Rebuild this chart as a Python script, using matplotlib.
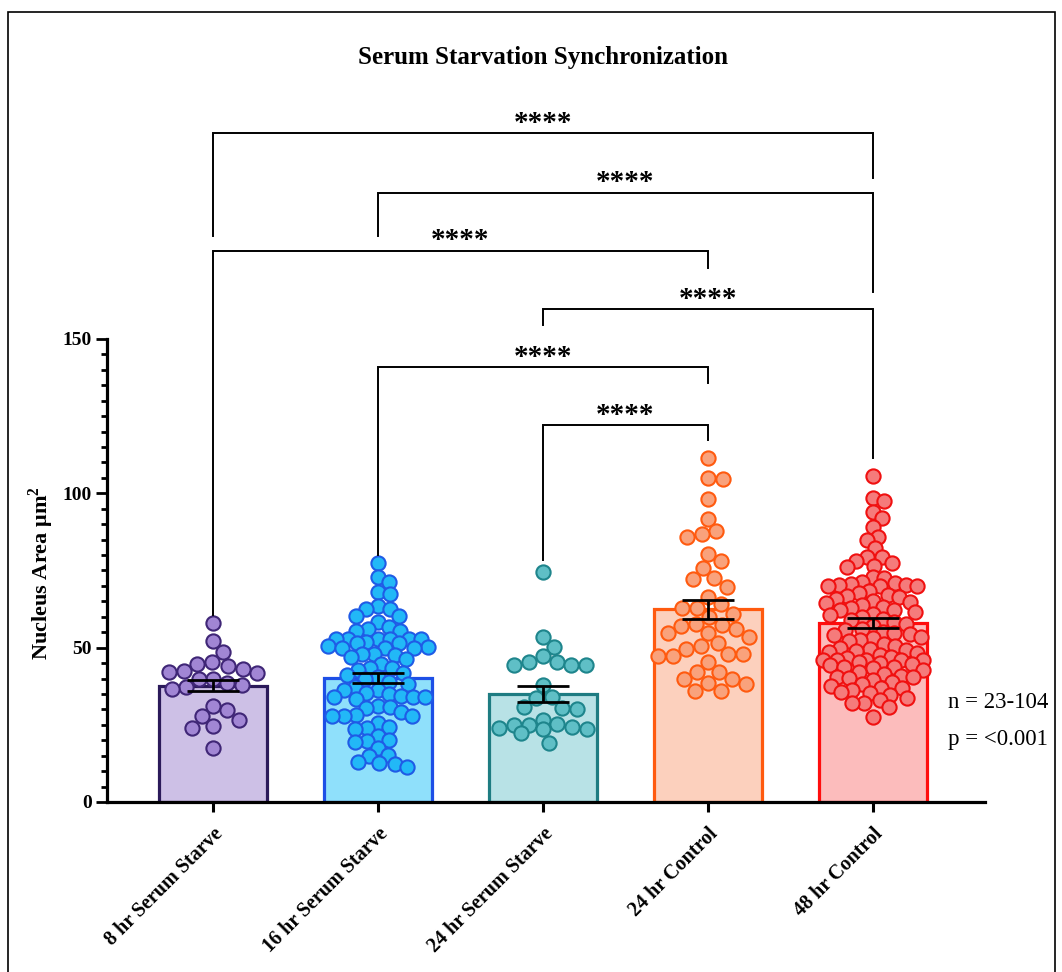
import matplotlib
matplotlib.use("Agg")
import matplotlib.pyplot as plt
import numpy as np
from matplotlib.patches import Rectangle

plt.rcParams['font.family'] = ['Liberation Serif', 'DejaVu Serif']
plt.rcParams['mathtext.fontset'] = 'custom'
plt.rcParams['mathtext.rm'] = 'Liberation Serif:bold'
plt.rcParams['mathtext.bf'] = 'Liberation Serif:bold'

# Daten
groups = ['8 hr Serum Starve', '16 hr Serum Starve', '24 hr Serum Starve',
          '24 hr Control', '48 hr Control']
means = [37.6, 40.2, 35.0, 62.4, 58.0]
sems = [1.8, 1.6, 2.5, 3.0, 1.5]

ss8 = [57.9, 52.3, 48.7, 45.3, 44.7, 44.1, 43.0, 42.5, 42.2, 41.9, 40.0, 40.0,
       38.5, 37.9, 37.2, 36.5, 31.1, 29.8, 27.9, 26.6, 24.6, 24.1, 17.6]
ss16 = [77.3, 72.8, 71.4, 67.9, 67.3, 63.5, 62.5, 62.5, 60.3, 60.3, 58.2, 56.8,
        55.9, 55.5, 55.5, 52.7, 52.7, 52.7, 52.7, 52.7, 52.7, 51.9, 51.4, 51.4,
        50.5, 50.3, 50.0, 49.8, 49.8, 48.0, 48.0, 47.5, 47.1, 46.3, 44.7, 43.3,
        43.3, 42.8, 41.7, 41.1, 40.5, 39.7, 38.9, 38.2, 37.4, 36.3, 36.3, 35.2,
        35.0, 34.3, 34.1, 34.0, 34.0, 33.5, 31.2, 30.9, 30.3, 29.3, 28.1, 28.0,
        27.8, 27.7, 25.5, 24.4, 24.1, 23.5, 21.4, 20.2, 19.9, 19.5, 17.4, 15.2,
        14.9, 13.1, 12.7, 12.2, 11.4]
ss24 = [74.6, 53.4, 50.3, 47.3, 45.5, 45.5, 44.5, 44.4, 44.4, 37.9, 34.1, 33.6,
        30.8, 30.3, 30.0, 26.6, 25.4, 24.9, 24.9, 24.3, 24.0, 23.5, 23.5, 22.2, 19.0]
c24 = [111.3, 105.1, 104.5, 98.0, 91.8, 87.8, 86.7, 85.9, 80.3, 78.2, 75.7, 72.4,
       72.1, 69.7, 66.3, 64.0, 62.9, 62.9, 60.9, 60.0, 57.8, 57.3, 57.0, 55.9,
       54.9, 54.6, 53.5, 51.4, 50.6, 49.4, 47.8, 47.8, 47.3, 47.3, 45.4, 42.0,
       42.0, 39.8, 39.8, 38.4, 38.1, 36.0, 36.0]
c48 = [105.6, 98.4, 97.6, 94.0, 91.9, 89.2, 85.9, 84.9, 82.2, 79.5, 79.3, 78.2,
       77.5, 76.5, 76.0, 72.8, 72.5, 71.4, 71.0, 70.6, 70.3, 70.3, 70.0, 69.9,
       69.9, 68.5, 67.8, 67.2, 66.8, 66.5, 65.9, 65.0, 64.9, 64.4, 63.8, 63.3,
       62.8, 62.2, 62.2, 61.6, 61.0, 60.5, 60.0, 59.2, 58.9, 58.4, 57.8, 57.0,
       56.2, 55.7, 55.0, 54.6, 54.4, 54.2, 53.6, 53.1, 52.5, 52.0, 51.3, 50.6,
       49.8, 49.5, 49.2, 49.0, 48.6, 48.2, 47.6, 47.1, 46.6, 46.0, 46.0, 46.0,
       46.0, 46.0, 45.5, 45.0, 44.6, 44.3, 43.8, 43.6, 43.3, 42.8, 42.1, 41.5,
       40.9, 40.6, 40.4, 40.1, 39.5, 38.8, 38.2, 37.6, 36.8, 36.8, 36.3, 35.7,
       35.2, 34.6, 33.6, 33.0, 32.2, 32.0, 30.8, 27.4]
data = [ss8, ss16, ss24, c24, c48]

bar_face = ['#cdc0e6', '#8fe0fb', '#b8e2e6', '#fcd0bd', '#fcbcbc']
bar_edge = ['#2b1a5a', '#1d4fe6', '#1e7c82', '#ff5a0f', '#ff0d0d']
pt_face = ['#a186d4', '#22b8f7', '#5fbfc6', '#f9a27c', '#f57b7b']
pt_edge = ['#3f2676', '#1f5be6', '#1e858c', '#ff5a0f', '#f01010']
spacing = [15, 12, 15, 15, 11.5]   # Punktabstand im Schwarm (px)

# Signifikanz-Klammern: (i, j, y_oben, y_links_unten, y_rechts_unten)
brackets = [(0, 4, 216.7, 183.4, 202.1),
            (1, 4, 197.3, 183.4, 165.2),
            (0, 3, 178.5, 60.6, 173.0),
            (2, 4, 159.7, 154.5, 111.4),
            (1, 3, 140.9, 80.0, 135.7),
            (2, 3, 122.1, 78.4, 117.3)]
stars = ['****'] * len(brackets)

# Schwarm-Layout in Pixeln
px_per_unit_y = 3.087
px_per_cat = 165.0

def swarm(vals, diam, limit=50):
    ys = np.array(sorted(vals, reverse=True)) * px_per_unit_y
    placed = []
    xs = []
    for y in ys:
        cands = [0.0]
        for (px, py) in placed:
            dy = abs(py - y)
            if dy < diam:
                dx = np.sqrt(diam**2 - dy**2)
                cands += [px + dx + 0.01, px - dx - 0.01]
        cands = sorted(cands, key=abs)
        best = None
        for c in cands:
            if abs(c) > limit:
                continue
            if all((c - px)**2 + (y - py)**2 >= diam**2 - 0.1 for (px, py) in placed):
                best = c
                break
        if best is None:
            grid = np.linspace(-limit, limit, 15)
            best = max(grid, key=lambda c: min(((c - px)**2 + (y - py)**2) for (px, py) in placed))
        placed.append((best, y))
        xs.append(best)
    return np.array(xs) / px_per_cat, ys / px_per_unit_y

fig = plt.figure(figsize=(10.62, 9.72), dpi=100)
ax = fig.add_axes([0.1008, 0.1749, 0.8267, 0.7146])

x = np.arange(len(groups))
ax.bar(x, means, width=0.655, color=bar_face, edgecolor=bar_edge, linewidth=2.3, zorder=1)
for i, vals in enumerate(data):
    dx, yy = swarm(vals, spacing[i])
    ax.scatter(i + dx, yy, s=105, facecolor=pt_face[i], edgecolor=pt_edge[i],
               linewidth=1.5, zorder=2, clip_on=False)
ax.errorbar(x, means, yerr=sems, fmt='none', ecolor='black', elinewidth=2.0,
            capsize=19, capthick=2.0, zorder=3)

for (i, j, yt, yl, yr), s in zip(brackets, stars):
    ax.plot([i, i, j, j], [yl, yt, yt, yr], color='black', lw=1.4,
            clip_on=False, zorder=4, solid_joinstyle='miter')
    ax.text((i + j) / 2, yt + 0.8, s, ha='center', va='baseline', fontsize=21,
            fontweight='bold')

ax.set_xlim(-0.642, 4.68)
ax.set_ylim(0, 225)
ax.spines['top'].set_visible(False)
ax.spines['right'].set_visible(False)
ax.spines['left'].set_bounds(0, 150)
ax.spines['left'].set_linewidth(2.3)
ax.spines['bottom'].set_linewidth(2.3)
ax.set_yticks([0, 50, 100, 150])
ax.set_yticks(np.arange(0, 151, 5), minor=True)
ax.tick_params(axis='y', which='major', length=8, width=2.0, labelsize=14, pad=3)
ax.tick_params(axis='y', which='minor', length=4.3, width=2.0)
ax.tick_params(axis='x', length=7, width=2.2, labelsize=14.5, pad=9)
for lab in ax.get_yticklabels():
    lab.set_fontweight('bold')
ax.set_xticks(x)
ax.set_xticklabels(groups, rotation=45, ha='right', rotation_mode='anchor',
                   fontweight='bold')
ax.set_ylabel(r'Nucleus Area μm$^{2}$', fontsize=16, fontweight='bold')
ax.yaxis.set_label_coords(-0.058, 0.33)

fig.text(0.511, 0.941, 'Serum Starvation Synchronization', ha='center', va='center',
         fontsize=18, fontweight='bold')
fig.text(0.893, 0.277, 'n = 23-104', ha='left', va='center', fontsize=16.5)
fig.text(0.893, 0.239, 'p = <0.001', ha='left', va='center', fontsize=16.5)

# Rahmen
fig.patches.append(Rectangle((8 / 1062, -0.01), 1047 / 1062, 1 - 12 / 972 + 0.01,
                             transform=fig.transFigure, fill=False,
                             edgecolor='black', linewidth=1.2))

plt.savefig('out.png', dpi=100)
